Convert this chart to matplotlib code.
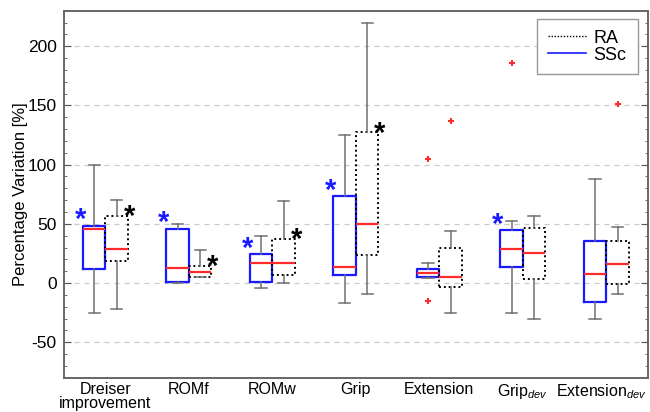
import matplotlib
matplotlib.use("Agg")
import matplotlib.pyplot as plt
from matplotlib.lines import Line2D
from matplotlib.ticker import MultipleLocator

plt.rcParams['font.family'] = ['Liberation Sans', 'DejaVu Sans']
plt.rcParams['mathtext.fontset'] = 'custom'
plt.rcParams['mathtext.rm'] = 'Liberation Sans'
plt.rcParams['mathtext.it'] = 'Liberation Sans:italic'
plt.rcParams['axes.unicode_minus'] = False

categories = ['Dreiser\nimprovement', 'ROMf', 'ROMw', 'Grip', 'Extension',
              'Grip$_{dev}$', 'Extension$_{dev}$']

# SSc group (blue, solid)
ssc_whislo = [-25, 0, -4, -17, 4, -25, -30]
ssc_q1 = [12, 1, 1, 6.5, 4.8, 13.3, -16]
ssc_med = [45.5, 13, 16.7, 13.8, 8.8, 28.8, 7.3]
ssc_q3 = [48.6, 46, 24.3, 73.2, 12.1, 44.4, 35.6]
ssc_whishi = [100, 50, 40, 125, 17, 52, 87.5]
ssc_fliers = [[], [], [], [], [104.5, -15.5], [185.6], []]
ssc_sig = [1, 1, 1, 1, 0, 1, 0]

# RA group (black, dotted)
ra_whislo = [-22.3, 4.8, 0, -9.3, -25, -30, -9.3]
ra_q1 = [18.6, 4.8, 6.5, 23.4, -3.7, 3.7, -0.8]
ra_med = [28.8, 9, 16.7, 50, 5.4, 25.1, 15.8]
ra_q3 = [56.8, 14.7, 37.6, 127.4, 29.4, 46.9, 35.6]
ra_whishi = [70, 28, 69, 219.5, 44, 57, 47.7]
ra_fliers = [[], [], [], [], [137], [], [150.8]]
ra_sig = [1, 1, 1, 1, 0, 0, 0]

BLUE = '#1a1aff'
RED = '#ff2a2a'
GRAY = '#707070'
w = 0.27


def make_stats(lo, q1, med, q3, hi, fl):
    return [dict(whislo=a, q1=b, med=c, q3=d, whishi=e, fliers=f)
            for a, b, c, d, e, f in zip(lo, q1, med, q3, hi, fl)]


fig = plt.figure(figsize=(6.5, 4.12), dpi=100)
ax = fig.add_axes([0.098, 0.083, 0.899, 0.891])

centers = [i + 1 for i in range(len(categories))]
ssc_pos = [c - w / 2 for c in centers]
ra_pos = [c + w / 2 for c in centers]

common = dict(widths=w, manage_ticks=False, zorder=3,
              whiskerprops=dict(color=GRAY, lw=1.1, ls='-'),
              capprops=dict(color=GRAY, lw=1.1),
              medianprops=dict(color=RED, lw=1.6),
              flierprops=dict(marker='+', markeredgecolor=RED, markersize=5, mew=1.5))

ax.bxp(make_stats(ssc_whislo, ssc_q1, ssc_med, ssc_q3, ssc_whishi, ssc_fliers),
       positions=ssc_pos, boxprops=dict(color=BLUE, lw=1.6), **common)
ax.bxp(make_stats(ra_whislo, ra_q1, ra_med, ra_q3, ra_whishi, ra_fliers),
       positions=ra_pos, boxprops=dict(color='black', lw=1.4, ls=(0, (1, 1.5))), **common)

# significance stars
for p, q, s in zip(ssc_pos, ssc_q3, ssc_sig):
    if s:
        ax.annotate('*', xy=(p - w / 2, q), xytext=(-2, -6), textcoords='offset points',
                    ha='center', va='bottom', color=BLUE, fontsize=21, fontweight='bold')
for p, q, s in zip(ra_pos, ra_q3, ra_sig):
    if s:
        ax.annotate('*', xy=(p + w / 2, q), xytext=(1, -11), textcoords='offset points',
                    ha='center', va='bottom', color='black', fontsize=21, fontweight='bold')

ax.set_xlim(0.5, 7.5)
ax.set_ylim(-80, 230)
# last label sits a touch left of its group so it stays on the canvas
label_x = centers[:-1] + [centers[-1] - 0.06]
ax.set_xticks(label_x)
ax.set_xticklabels(categories, fontsize=11.5, linespacing=0.95)
ax.tick_params(axis='x', length=0, pad=3)
ax.yaxis.set_major_locator(MultipleLocator(50))
ax.yaxis.set_minor_locator(MultipleLocator(10))
ax.tick_params(axis='y', which='both', direction='in', left=True, right=True,
               labelsize=12.5, color='#555555', pad=5)
ax.tick_params(axis='y', which='major', length=5)
ax.tick_params(axis='y', which='minor', length=2.5)
ax.set_ylabel('Percentage Variation [%]', fontsize=12, labelpad=0)
ax.grid(axis='y', which='major', ls=(0, (4, 4)), color='#c8c8c8', lw=0.9, zorder=0)

for s in ax.spines.values():
    s.set_color('#666666')
    s.set_linewidth(1.4)

handles = [Line2D([], [], color='black', ls=(0, (1, 1.2)), lw=1),
           Line2D([], [], color=BLUE, ls='-', lw=1.2)]
ax.legend(handles, ['RA', 'SSc'], loc='upper right', fontsize=13, fancybox=False,
          edgecolor='#999999', framealpha=1, handlelength=2.1, borderpad=0.6,
          labelspacing=0.0, handletextpad=0.45, borderaxespad=0,
          bbox_to_anchor=(0.982, 0.978))

fig.savefig('out.png', dpi=100)
